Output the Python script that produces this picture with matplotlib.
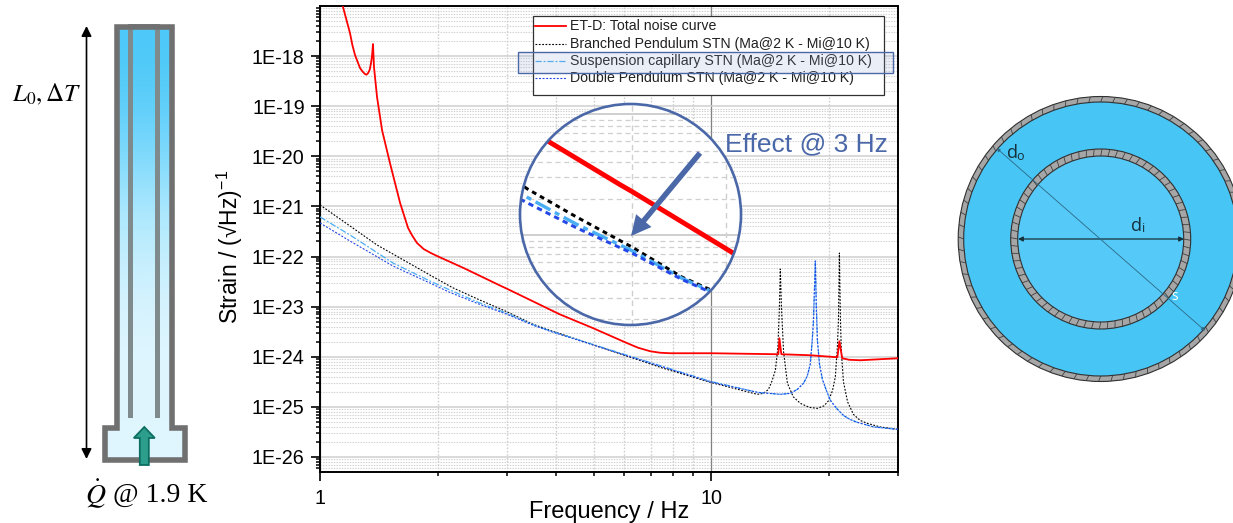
import numpy as np
import matplotlib
matplotlib.use('Agg')
import matplotlib.pyplot as plt
from matplotlib.patches import Circle, Polygon, Rectangle, FancyArrow
from matplotlib.collections import LineCollection
from matplotlib.ticker import LogLocator, FixedLocator, NullFormatter, FixedFormatter

plt.rcParams['font.family'] = ['Liberation Sans', 'DejaVu Sans']

# curves: frequency in Hz, strain as log10
red_f = [1.145, 1.193, 1.21, 1.229, 1.25, 1.266, 1.285, 1.304, 1.315, 1.327, 1.34, 1.350, 1.358, 1.366, 1.374, 1.399, 1.441, 1.510, 1.602, 1.679, 1.72, 1.770, 1.84, 1.92, 1.992,
         2.33, 2.887, 3.0, 3.873, 4.09, 4.99, 6.10, 6.5, 6.98, 7.4, 7.86, 10.0, 14.84, 14.93, 15.1, 17.9, 21.0, 21.25, 21.6, 22.5, 24.05, 30.0]
red_s = [-17.02, -17.54, -17.78, -17.98, -18.13, -18.24, -18.31, -18.36, -18.37, -18.34, -18.27, -18.14, -18.0, -17.76, -18.22, -18.82, -19.48, -20.14, -20.93, -21.43, -21.58, -21.73, -21.85, -21.93, -21.99,
         -22.23, -22.58, -22.64, -23.06, -23.15, -23.43, -23.73, -23.82, -23.89, -23.92, -23.93, -23.93, -23.95, -23.63, -23.95, -23.97, -24.01, -23.69, -24.03, -24.06, -24.07, -24.03]

branched_f = [1.0, 1.193, 1.399, 1.992, 2.18, 2.53, 3.0, 3.5, 3.9, 5.11, 6.21, 7.54, 9.94, 13.11, 13.6, 14.0, 14.3, 14.58, 14.8, 14.93, 15.01, 15.11, 15.3,
              15.65, 16.2, 16.89, 17.8, 18.67, 19.4, 19.92, 20.4, 20.75, 21.0, 21.13, 21.25, 21.38, 21.5, 21.76, 22.3, 23.08, 24.0, 25.06, 27.0, 30.0]
branched_s = [-20.97, -21.39, -21.77, -22.45, -22.62, -22.85, -23.10, -23.35, -23.48, -23.79, -24.01, -24.23, -24.51, -24.75, -24.73, -24.65, -24.48, -24.27, -23.8, -23.01, -22.25, -23.01, -23.9,
              -24.53, -24.8, -24.93, -25.01, -25.03, -24.98, -24.88, -24.68, -24.4, -23.8, -23.27, -21.93, -23.27, -23.9, -24.5, -24.9, -25.15, -25.27, -25.33, -25.4, -25.45]

capillary_f = [1.0, 1.193, 1.537, 1.911, 2.18, 2.53, 3.0, 3.5, 3.9, 6.21, 9.94, 13.11, 15.01, 15.92, 16.6, 17.2, 17.6, 17.9, 18.1, 18.23, 18.45, 18.55, 18.67,
               18.9, 19.23, 19.7, 20.15, 20.9, 21.76, 22.6, 23.63, 26.0, 30.0]
capillary_s = [-21.21, -21.57, -22.13, -22.49, -22.69, -22.91, -23.13, -23.36, -23.49, -23.99, -24.49, -24.71, -24.75, -24.73, -24.65, -24.53, -24.38, -24.15, -23.7, -23.33, -22.09, -23.0, -23.67,
               -24.15, -24.45, -24.68, -24.87, -25.03, -25.17, -25.25, -25.31, -25.4, -25.45]

double_f = [1.0, 1.193, 1.537, 1.911, 2.14, 2.53, 3.0, 3.5, 3.9, 6.21, 9.94, 13.11, 15.01, 15.92, 16.6, 17.2, 17.6, 17.9, 18.1, 18.23, 18.45, 18.55, 18.67,
            18.9, 19.23, 19.7, 20.15, 20.9, 21.76, 22.6, 23.63, 26.0, 30.0]
double_s = [-21.33, -21.69, -22.19, -22.53, -22.71, -22.94, -23.15, -23.37, -23.50, -24.00, -24.50, -24.71, -24.75, -24.73, -24.65, -24.53, -24.38, -24.15, -23.7, -23.33, -22.09, -23.0, -23.67,
            -24.15, -24.45, -24.68, -24.87, -25.03, -25.17, -25.25, -25.31, -25.4, -25.45]

y_exponents = [-18, -19, -20, -21, -22, -23, -24, -25, -26]
y_labels = ['1E-18', '1E-19', '1E-20', '1E-21', '1E-22', '1E-23', '1E-24', '1E-25', '1E-26']
x_ticks = [1, 10]
x_labels = ['1', '10']
legend_labels = ['ET-D: Total noise curve',
                 'Branched Pendulum STN (Ma@2 K - Mi@10 K)',
                 'Suspension capillary STN (Ma@2 K - Mi@10 K)',
                 'Double Pendulum STN (Ma@2 K - Mi@10 K)']

W, H = 1233, 523
RED = '#ff0000'
BLACK = '#000000'
CAP = '#4aaef5'
DBL = '#2448e8'
STEEL = '#4a67a8'
GRID = '#cfcfcf'


def px_axes(x0, y0, x1, y1, **kw):
    return fig.add_axes([x0 / W, 1 - y1 / H, (x1 - x0) / W, (y1 - y0) / H], **kw)


def curves(ax, scale=1.0):
    ax.plot(branched_f, np.power(10.0, branched_s), color=BLACK, lw=0.8 * scale, ls=(0, (1.6, 1.4)), zorder=3)
    ax.plot(capillary_f, np.power(10.0, capillary_s), color=CAP, lw=0.9 * scale, ls=(0, (5, 1.5, 1.5, 1.5)), zorder=3.1)
    ax.plot(double_f, np.power(10.0, double_s), color=DBL, lw=0.8 * scale, ls=(0, (1.8, 1.4)), zorder=3.2)
    ax.plot(red_f, np.power(10.0, red_s), color=RED, lw=1.3 * scale, zorder=4)


fig = plt.figure(figsize=(W / 100, H / 100), dpi=100)

# main chart
ax = px_axes(320, 6, 898, 472)
curves(ax)
ax.set_xscale('log')
ax.set_yscale('log')
ax.set_xlim(1, 30)
ax.set_ylim(10.0 ** -26.3, 1e-17)
ax.xaxis.set_major_locator(FixedLocator(x_ticks))
ax.xaxis.set_major_formatter(FixedFormatter(x_labels))
ax.xaxis.set_minor_locator(LogLocator(base=10, subs=np.arange(2, 10), numticks=10))
ax.xaxis.set_minor_formatter(NullFormatter())
ax.yaxis.set_major_locator(FixedLocator([10.0 ** e for e in y_exponents]))
ax.yaxis.set_major_formatter(FixedFormatter(y_labels))
ax.yaxis.set_minor_locator(LogLocator(base=10, subs=np.arange(2, 10), numticks=20))
ax.yaxis.set_minor_formatter(NullFormatter())
ax.tick_params(which='major', length=6.5, width=1.2, labelsize=14.2, pad=4.5)
ax.tick_params(which='minor', length=3.2, width=1.1)
ax.tick_params(axis='x', which='major', pad=6)
ax.grid(True, axis='y', which='major', color=GRID, lw=1.1)
ax.grid(True, axis='y', which='minor', color=GRID, lw=0.8, ls=(0, (1.2, 1.2)))
ax.grid(True, axis='x', which='major', color='#808080', lw=0.9)
ax.grid(True, axis='x', which='minor', color=GRID, lw=1.0, ls=(0, (1.2, 1.2)))
ax.set_axisbelow(True)
for s in ax.spines.values():
    s.set_linewidth(1.4)
ax.set_xlabel('Frequency / Hz', fontsize=17, labelpad=-5)
ax.set_ylabel('Strain / (√Hz)$^{\\mathregular{-1}}$', fontsize=16.5)
ax.yaxis.set_label_coords((245 - 320) / 578, (472 - 247) / 466)

# zoomed circle at 3 Hz
cx, cy, r = 630.5, 214.5, 110.5
ins = px_axes(cx - r, cy - r, cx + r, cy + r)
x_dec, y_dec = 752.0, 120.7
ins.set_xscale('log')
ins.set_yscale('log')
ins.set_xlim(3 * 10 ** ((cx - r - 632) / x_dec), 3 * 10 ** ((cx + r - 632) / x_dec))
ins.set_ylim(10 ** (-23 - (cy + r - 235) / y_dec), 10 ** (-23 + (235 - cy + r) / y_dec))
curves(ins, 2.7)
ins.axis('off')
ins.patch.set_visible(True)
clip = Circle((0.5, 0.5), 0.5, transform=ins.transAxes)
ins.patch.set_clip_path(clip)
for v in [3, 4]:
    ins.axvline(v, color=GRID, lw=1.0, ls=(0, (4, 3)), zorder=1)
for e in [-24, -23, -22]:
    ins.axhline(10.0 ** e, color=GRID, lw=1.4, zorder=1)
    for k in range(2, 10):
        ins.axhline(k * 10.0 ** e, color=GRID, lw=0.9, ls=(0, (4, 3)), zorder=1)
for art in ins.get_lines():
    art.set_clip_path(clip)
bg = Rectangle((0, 0), 1, 1, transform=ins.transAxes, facecolor='white', edgecolor='none', zorder=0)
ins.add_patch(bg)
bg.set_clip_path(clip)

# everything drawn in picture pixels on top
top = fig.add_axes([0, 0, 1, 1])
top.patch.set_visible(False)
top.axis('off')

# left sketch: tube with gradient
outline = [(117, 27), (172, 27), (172, 428), (184.5, 428), (184.5, 459.5), (104.5, 459.5), (104.5, 428), (117, 428)]
grad = np.array([[76, 200, 248], [110, 212, 251], [172, 232, 254], [208, 241, 254], [224, 246, 254], [224, 246, 254]]) / 255
im = top.imshow(grad[:, None, :], extent=(100, 190, 462, 27), aspect='auto', interpolation='bicubic', zorder=1)
im.set_clip_path(Polygon(outline, closed=True, transform=top.transData))
for x0, x1 in [(128, 133), (155, 160)]:
    top.add_patch(Rectangle((x0, 27), x1 - x0, 391, facecolor='#7f8a8c', edgecolor='none', zorder=2))
top.add_patch(Rectangle((128, 24), 32, 5, facecolor='#7f8a8c', edgecolor='none', zorder=2))
top.add_patch(Polygon(outline, closed=True, fill=False, edgecolor='#707070', lw=4.0, joinstyle='miter', zorder=3))
top.add_patch(FancyArrow(144.3, 465, 0, -38, width=9, head_width=21, head_length=11, length_includes_head=True,
                         facecolor='#2e9e8c', edgecolor='#0c6e60', lw=1.3, zorder=4))
top.annotate('', xy=(86.5, 26), xytext=(86.5, 459),
             arrowprops=dict(arrowstyle='<|-|>', color='black', lw=1.2, mutation_scale=15, shrinkA=0, shrinkB=0))
top.text(82, 94, r'$L_0,\Delta T$', fontsize=18, math_fontfamily='stix', ha='right', va='center')
top.text(85, 494, r'$\dot{Q}$', fontsize=20, math_fontfamily='stix', ha='left', va='center')
top.text(113, 495, '@ 1.9 K', fontsize=20, family='Liberation Serif', ha='left', va='center')

# legend
top.add_patch(Rectangle((533, 16), 351, 79, facecolor='white', edgecolor='#303030', lw=0.9, zorder=5))
legend_y = [26, 44, 61, 78]
legend_style = [(RED, 1.3, '-'), (BLACK, 0.8, (0, (1.6, 1.4))), (CAP, 0.9, (0, (5, 1.5, 1.5, 1.5))), (DBL, 0.8, (0, (1.8, 1.4)))]
for lab, y, (c, lw, ls) in zip(legend_labels, legend_y, legend_style):
    top.plot([535, 566], [y, y], color=c, lw=lw, ls=ls, zorder=6)
    top.text(570.5, y, lab, fontsize=10.2, va='center', ha='left', color='#202020', zorder=6)
top.add_patch(Rectangle((518, 52), 375, 21, facecolor='#8fa3d0', alpha=0.18, edgecolor='none', zorder=7))
top.add_patch(Rectangle((518, 52), 375, 21, fill=False, edgecolor=STEEL, lw=1.0, zorder=7))

# circle rim, arrow, label
top.add_patch(Circle((cx, cy), r, fill=False, edgecolor=STEEL, lw=1.9, zorder=8))
top.add_patch(FancyArrow(700, 153, -69, 83, width=5.5, head_width=20, head_length=20, length_includes_head=True,
                         facecolor=STEEL, edgecolor='none', zorder=8))
top.text(725, 144, 'Effect @ 3 Hz', color=STEEL, fontsize=19, va='center', ha='left', zorder=8)

# right sketch: annulus cross-section
ox, oy = 1100.7, 239
top.add_patch(Circle((ox, oy), 142.5, facecolor='#a6a6a6', edgecolor='#303030', lw=0.8, zorder=2))
top.add_patch(Circle((ox, oy), 137, facecolor='#47c5f5', edgecolor='#303030', lw=0.8, zorder=4))
top.add_patch(Circle((ox, oy), 90, facecolor='#a6a6a6', edgecolor='#303030', lw=0.8, zorder=5))
top.add_patch(Circle((ox, oy), 83, facecolor='#55c9f7', edgecolor='#303030', lw=0.8, zorder=7))
ang = np.radians(np.arange(0, 360, 5.0))
for r0, r1, z in [(137, 142.5, 3), (83, 90, 6)]:
    segs = [[(ox + r0 * np.cos(a), oy + r0 * np.sin(a)), (ox + r1 * np.cos(a + 0.015), oy + r1 * np.sin(a + 0.015))] for a in ang]
    top.add_collection(LineCollection(segs, colors='#404040', linewidths=0.6, zorder=z))
top.annotate('', xy=(1018, 239), xytext=(1184, 239), zorder=9,
             arrowprops=dict(arrowstyle='<|-|>', color='#16303c', lw=0.9, mutation_scale=7, shrinkA=0, shrinkB=0))
top.annotate('', xy=(996.7, 148.3), xytext=(1205, 330.7), zorder=9,
             arrowprops=dict(arrowstyle='<|-|>', color='#2d6884', lw=0.6, mutation_scale=5, shrinkA=0, shrinkB=0))
for x, y, t, fs, col in [(1012, 153, 'd', 13, '#15303c'), (1020, 156, 'o', 9, '#15303c'),
                         (1137, 226, 'd', 13, '#15303c'), (1144, 229, 'i', 9, '#15303c'), (1175, 297, 's', 10, 'white')]:
    top.text(x, y, t, fontsize=fs, color=col, family='Open Sans', ha='center', va='center', zorder=10)

top.set_xlim(0, W)
top.set_ylim(H, 0)

fig.savefig('out.png', dpi=100)
